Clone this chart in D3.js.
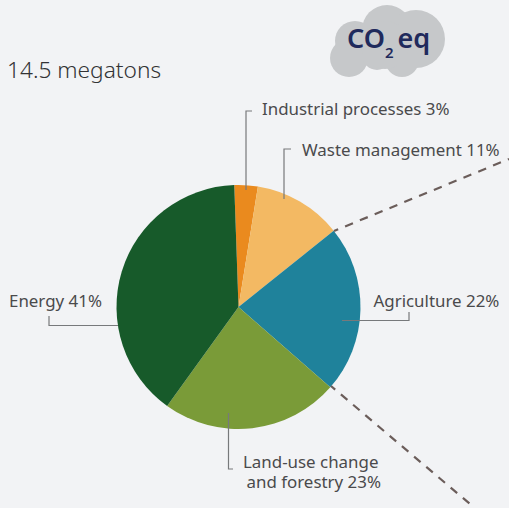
<!DOCTYPE html>
<html><head><meta charset="utf-8">
<script src="https://cdnjs.cloudflare.com/ajax/libs/d3/7.8.5/d3.min.js"></script>
<style>html,body{margin:0;padding:0;background:#f2f3f5}svg{display:block}text{font-family:"Noto Sans",sans-serif;fill:#4a4a4c}</style>
</head><body><svg id="c" width="509" height="508"></svg>
<script>
const categories = ["Industrial processes","Waste management","Agriculture","Land-use change and forestry","Energy"];
const labelPercents = [3,11,22,23,41];
const sliceShares = [3.1,11.7,22.2,23.5,39.5];
const colors = ["#ea8a1e","#f3b963","#1f829b","#7a9b38","#175a2a"];
const cx=238.5, cy=307, R=122;
const svg=d3.select("#c");
svg.append("rect").attr("width",509).attr("height",508).attr("fill","#f2f3f5");

// cloud
const cloud=svg.append("g").attr("fill","#c6c8ca");
[[355,41,20],[349,58,19],[387,30,25],[416,39,29],[377,55,15],[402,60,17],[385,45,24]]
 .forEach(d=>cloud.append("circle").attr("cx",d[0]).attr("cy",d[1]).attr("r",d[2]));
const co=svg.append("text").attr("x",347).attr("y",48).attr("font-size",27).attr("font-weight",600).style("fill","#1f2a5c");
co.append("tspan").text("CO");
co.append("tspan").text("2").attr("font-size",15).attr("dy",10).attr("dx",0);
co.append("tspan").text("eq").attr("dy",-10).attr("dx",4);

svg.append("text").attr("x",7).attr("y",78).attr("font-size",22.7).attr("font-weight",300).style("fill","#333335").text("14.5 megatons");

// pie
const pie=d3.pie().value(d=>d).sort(null).startAngle(-2*Math.PI/180).endAngle(358*Math.PI/180);
const arc=d3.arc().innerRadius(0).outerRadius(R);
svg.append("g").attr("transform",`translate(${cx},${cy})`).selectAll("path").data(pie(sliceShares)).join("path")
  .attr("d",arc).attr("fill",(d,i)=>colors[i]);

// dashed connectors
const dash=svg.append("g").attr("stroke","#6b5d5a").attr("stroke-width",2.2).attr("stroke-dasharray","8.5 7.5").attr("fill","none");
dash.append("line").attr("x1",334).attr("y1",231).attr("x2",509).attr("y2",159).attr("stroke-dashoffset",4);
dash.append("line").attr("x1",331).attr("y1",386).attr("x2",470).attr("y2",504).attr("stroke-dashoffset",3);

// leaders
const lead=svg.append("g").attr("stroke","#77797b").attr("stroke-width",1.2).attr("fill","none");
["M252,111H246V190","M291,149H284V199","M118,325.5H49V316","M342,320.5H409V312","M228.5,413V469H233"]
 .forEach(p=>lead.append("path").attr("d",p));

const fs=16.9;
const lab=(x,y)=>svg.append("text").attr("x",x).attr("y",y).attr("font-size",fs);
lab(262,115).text(`${categories[0]} ${labelPercents[0]}%`);
lab(302,156).text(`${categories[1]} ${labelPercents[1]}%`);
lab(9,307).text(`${categories[4]} ${labelPercents[4]}%`);
lab(373.5,307).text(`${categories[2]} ${labelPercents[2]}%`);
const land=svg.append("text").attr("font-size",fs);
land.append("tspan").attr("x",243).attr("y",468).text("Land-use change");
land.append("tspan").attr("x",246.5).attr("y",488).text(`and forestry ${labelPercents[3]}%`);
</script></body></html>
